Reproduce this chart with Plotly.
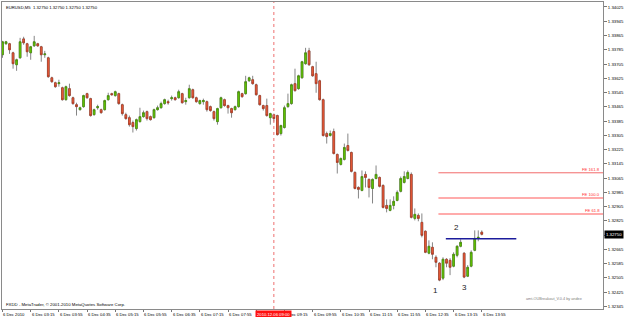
import plotly.graph_objects as go

# ---------------- data (EURUSD, M5, 6 Dec 2010 02:35 -> 13:55) ----------------
opens = [1.33757, 1.33819, 1.33819, 1.33768, 1.33701, 1.33740, 1.33846, 1.33819, 1.33768, 1.33807,
         1.33819, 1.33802, 1.33757, 1.33740, 1.33628, 1.33600, 1.33595, 1.33572, 1.33505, 1.33567,
         1.33516, 1.33477, 1.33449, 1.33466, 1.33539, 1.33511, 1.33421, 1.33460, 1.33449, 1.33449,
         1.33505, 1.33539, 1.33528, 1.33539, 1.33477, 1.33421, 1.33404, 1.33377, 1.33343, 1.33382,
         1.33410, 1.33438, 1.33410, 1.33404, 1.33449, 1.33460, 1.33483, 1.33494, 1.33511, 1.33516,
         1.33516, 1.33539, 1.33494, 1.33516, 1.33561, 1.33516, 1.33483, 1.33494, 1.33494, 1.33466,
         1.33438, 1.33382, 1.33460, 1.33505, 1.33472, 1.33455, 1.33449, 1.33466, 1.33539, 1.33539,
         1.33611, 1.33617, 1.33589, 1.33528, 1.33472, 1.33472, 1.33404, 1.33421, 1.33416, 1.33315,
         1.33349, 1.33466, 1.33483, 1.33595, 1.33567, 1.33628, 1.33707, 1.33779, 1.33690, 1.33651,
         1.33611, 1.33505, 1.33315, 1.33304, 1.33326, 1.33198, 1.33142, 1.33170, 1.33248, 1.33209,
         1.33097, 1.33013, 1.32996, 1.33086, 1.33058, 1.33007, 1.33063, 1.33069, 1.33024, 1.32912,
         1.32884, 1.32912, 1.32940, 1.32991, 1.33041, 1.33063, 1.33086, 1.32839, 1.32856, 1.32817,
         1.32767, 1.32644, 1.32677, 1.32621, 1.32588, 1.32504, 1.32610, 1.32604, 1.32571, 1.32632,
         1.32683, 1.32644, 1.32515, 1.32571, 1.32660, 1.32727, 1.32762]
highs = [1.33835, 1.33835, 1.33824, 1.33774, 1.33735, 1.33852, 1.33858, 1.33824, 1.33807, 1.33863,
         1.33824, 1.33807, 1.33779, 1.33746, 1.33634, 1.33606, 1.33617, 1.33578, 1.33584, 1.33595,
         1.33522, 1.33488, 1.33466, 1.33533, 1.33544, 1.33516, 1.33455, 1.33477, 1.33455, 1.33505,
         1.33544, 1.33544, 1.33556, 1.33544, 1.33483, 1.33432, 1.33416, 1.33388, 1.33399, 1.33460,
         1.33444, 1.33444, 1.33416, 1.33455, 1.33472, 1.33494, 1.33511, 1.33505, 1.33528, 1.33522,
         1.33561, 1.33544, 1.33516, 1.33589, 1.33567, 1.33522, 1.33505, 1.33511, 1.33500, 1.33472,
         1.33444, 1.33460, 1.33522, 1.33511, 1.33477, 1.33460, 1.33472, 1.33556, 1.33544, 1.33639,
         1.33634, 1.33639, 1.33595, 1.33533, 1.33477, 1.33511, 1.33432, 1.33427, 1.33421, 1.33365,
         1.33472, 1.33539, 1.33595, 1.33679, 1.33645, 1.33723, 1.33796, 1.33796, 1.33695, 1.33718,
         1.33617, 1.33511, 1.33326, 1.33332, 1.33343, 1.33203, 1.33181, 1.33259, 1.33315, 1.33214,
         1.33103, 1.33019, 1.33108, 1.33103, 1.33063, 1.33063, 1.33136, 1.33074, 1.33030, 1.32946,
         1.32946, 1.32963, 1.32996, 1.33074, 1.33103, 1.33108, 1.33097, 1.32895, 1.32867, 1.32867,
         1.32772, 1.32716, 1.32705, 1.32632, 1.32593, 1.32621, 1.32616, 1.32616, 1.32649, 1.32688,
         1.32722, 1.32649, 1.32577, 1.32660, 1.32772, 1.32772, 1.32772]
lows = [1.33740, 1.33813, 1.33762, 1.33679, 1.33667, 1.33735, 1.33813, 1.33746, 1.33729, 1.33802,
        1.33802, 1.33718, 1.33740, 1.33628, 1.33600, 1.33572, 1.33578, 1.33500, 1.33500, 1.33522,
        1.33477, 1.33416, 1.33444, 1.33460, 1.33511, 1.33410, 1.33416, 1.33449, 1.33427, 1.33444,
        1.33500, 1.33528, 1.33522, 1.33477, 1.33416, 1.33393, 1.33354, 1.33321, 1.33332, 1.33377,
        1.33404, 1.33388, 1.33388, 1.33399, 1.33444, 1.33455, 1.33477, 1.33477, 1.33500, 1.33500,
        1.33511, 1.33483, 1.33477, 1.33511, 1.33511, 1.33488, 1.33477, 1.33477, 1.33438, 1.33438,
        1.33388, 1.33365, 1.33455, 1.33466, 1.33427, 1.33404, 1.33444, 1.33460, 1.33516, 1.33533,
        1.33606, 1.33589, 1.33528, 1.33472, 1.33444, 1.33410, 1.33365, 1.33382, 1.33304, 1.33304,
        1.33343, 1.33460, 1.33477, 1.33550, 1.33561, 1.33623, 1.33701, 1.33695, 1.33634, 1.33544,
        1.33500, 1.33298, 1.33259, 1.33298, 1.33198, 1.33091, 1.33136, 1.33164, 1.33214, 1.33097,
        1.33002, 1.32951, 1.32991, 1.33013, 1.32957, 1.32923, 1.33058, 1.33013, 1.32895, 1.32873,
        1.32879, 1.32890, 1.32935, 1.32985, 1.33035, 1.33058, 1.32839, 1.32828, 1.32823, 1.32733,
        1.32644, 1.32638, 1.32610, 1.32565, 1.32487, 1.32493, 1.32565, 1.32521, 1.32565, 1.32621,
        1.32677, 1.32504, 1.32510, 1.32565, 1.32655, 1.32711, 1.32744]
closes = [1.33830, 1.33830, 1.33785, 1.33707, 1.33729, 1.33830, 1.33824, 1.33774, 1.33802, 1.33830,
          1.33807, 1.33757, 1.33762, 1.33634, 1.33606, 1.33578, 1.33600, 1.33505, 1.33578, 1.33528,
          1.33483, 1.33466, 1.33460, 1.33528, 1.33516, 1.33416, 1.33449, 1.33466, 1.33432, 1.33500,
          1.33528, 1.33533, 1.33550, 1.33483, 1.33427, 1.33399, 1.33365, 1.33354, 1.33393, 1.33410,
          1.33432, 1.33399, 1.33393, 1.33449, 1.33460, 1.33483, 1.33505, 1.33488, 1.33516, 1.33505,
          1.33550, 1.33488, 1.33500, 1.33567, 1.33516, 1.33494, 1.33500, 1.33500, 1.33449, 1.33444,
          1.33399, 1.33455, 1.33516, 1.33472, 1.33460, 1.33432, 1.33466, 1.33550, 1.33522, 1.33606,
          1.33628, 1.33595, 1.33533, 1.33477, 1.33455, 1.33416, 1.33427, 1.33399, 1.33309, 1.33360,
          1.33460, 1.33483, 1.33589, 1.33556, 1.33639, 1.33718, 1.33768, 1.33701, 1.33639, 1.33595,
          1.33505, 1.33304, 1.33298, 1.33315, 1.33203, 1.33153, 1.33175, 1.33237, 1.33220, 1.33103,
          1.33007, 1.33002, 1.33074, 1.33069, 1.33013, 1.33058, 1.33086, 1.33019, 1.32901, 1.32895,
          1.32912, 1.32935, 1.32985, 1.33063, 1.33074, 1.33097, 1.32845, 1.32862, 1.32839, 1.32744,
          1.32649, 1.32683, 1.32638, 1.32593, 1.32493, 1.32610, 1.32588, 1.32565, 1.32638, 1.32683,
          1.32705, 1.32510, 1.32565, 1.32649, 1.32727, 1.32733, 1.32750]

bar_index = list(range(len(closes)))

x_tick_bars = [0, 8, 16, 24, 32, 40, 48, 56, 64, 72, 80, 88, 96, 104, 112, 120, 128, 136]
x_tick_text = ["6 Dec 2010", "6 Dec 03:15", "6 Dec 03:55", "6 Dec 04:35", "6 Dec 05:15",
               "6 Dec 05:55", "6 Dec 06:35", "6 Dec 07:15", "6 Dec 07:55", "6 Dec 08:35",
               "6 Dec 09:15", "6 Dec 09:55", "6 Dec 10:35", "6 Dec 11:15", "6 Dec 11:55",
               "6 Dec 12:35", "6 Dec 13:15", "6 Dec 13:55"]

y_tick_vals = [1.34025, 1.33945, 1.33865, 1.33785, 1.33705, 1.33625, 1.33545, 1.33465,
               1.33385, 1.33305, 1.33225, 1.33145, 1.33065, 1.32985, 1.32905, 1.32825,
               1.32745, 1.32665, 1.32585, 1.32505, 1.32425, 1.32345]

fibo_levels = [1.33095, 1.32953, 1.32864]
fibo_labels = ["FE 161.8", "FE 100.0", "FE 61.8"]
fibo_colors = ["#f26a6a", "#ffabab", "#ffabab"]
fibo_widths = [1, 2, 2]
fibo_start_bar = 123.7

breakout_level = 1.32725
breakout_bars = [125.8, 145.8]

vline_bar = 77
vline_label = "2010.12.06 09:00"

point_labels = ["1", "2", "3"]
point_bars = [123, 128.8, 131]
point_prices = [1.32437, 1.32789, 1.32453]

current_price = 1.32750
header = "EURUSD,M5  1.32750 1.32750 1.32750 1.32750"
copyright_txt = "FXDD - MetaTrader, \u00a9 2001-2010 MetaQuotes Software Corp."
indicator_txt = "amt-OUBreakout_V.0.4 by andee"

FONT = "Liberation Sans, Arial, sans-serif"

body_hi = [max(o, c) for o, c in zip(opens, closes)]
body_lo = [min(o, c) for o, c in zip(opens, closes)]

fig = go.Figure()
# wicks (grey)
fig.add_trace(go.Candlestick(
    x=bar_index, open=opens, high=highs, low=lows, close=closes,
    increasing=dict(line=dict(color="#858585", width=1), fillcolor="#858585"),
    decreasing=dict(line=dict(color="#858585", width=1), fillcolor="#858585"),
    showlegend=False, hoverinfo="skip"))
# bodies
fig.add_trace(go.Candlestick(
    x=bar_index, open=opens, high=body_hi, low=body_lo, close=closes,
    increasing=dict(line=dict(color="#3f8a00", width=0.6), fillcolor="#66cc00"),
    decreasing=dict(line=dict(color="#a8301a", width=0.6), fillcolor="#ee5f3c"),
    showlegend=False, hoverinfo="skip"))

shapes = []
shapes.append(dict(type="line", xref="x", yref="paper", x0=vline_bar, x1=vline_bar, y0=0, y1=1,
                   line=dict(color="#ee7070", width=1, dash="dot")))
for lev, col, w in zip(fibo_levels, fibo_colors, fibo_widths):
    shapes.append(dict(type="line", xref="x", yref="y", x0=fibo_start_bar, x1=171, y0=lev, y1=lev,
                       line=dict(color=col, width=w)))
shapes.append(dict(type="line", xref="x", yref="y", x0=breakout_bars[0], x1=breakout_bars[1],
                   y0=breakout_level, y1=breakout_level, line=dict(color="#1c1c9c", width=1.3)))

ann = []
for b, t in zip(x_tick_bars, x_tick_text):
    if t == "6 Dec 08:35":
        continue  # fully hidden behind the red time box in the reference
    ann.append(dict(x=b, y=0, xref="x", yref="paper", text=t, showarrow=False,
                    xanchor="left", yanchor="top", xshift=-1, yshift=-1,
                    font=dict(size=4.2, color="#000", family=FONT)))
ann.append(dict(x=vline_bar, y=0, xref="x", yref="paper", text=vline_label, showarrow=False,
                xanchor="center", yanchor="top", yshift=-1, bgcolor="#ff1010", borderpad=1,
                font=dict(size=4.2, color="#ffffff", family=FONT)))
for lev, lab in zip(fibo_levels, fibo_labels):
    ann.append(dict(x=1, y=lev, xref="paper", yref="y", text=lab, showarrow=False,
                    xanchor="right", yanchor="bottom", xshift=-1, yshift=-1,
                    font=dict(size=4.2, color="#ff3030", family=FONT)))
for b, p, t in zip(point_bars, point_prices, point_labels):
    ann.append(dict(x=b, y=p, xref="x", yref="y", text=t, showarrow=False,
                    font=dict(size=8, color="#1a1a1a", family=FONT)))
ann.append(dict(x=1, y=current_price, xref="paper", yref="y", text="1.32750", showarrow=False,
                xanchor="left", xshift=1, bgcolor="#000000", borderpad=1,
                font=dict(size=4.3, color="#ffffff", family=FONT)))
ann.append(dict(x=0, y=1, xref="paper", yref="paper", text=header, showarrow=False,
                xanchor="left", yanchor="top", xshift=2, yshift=-1,
                font=dict(size=4.2, color="#000", family=FONT)))
ann.append(dict(x=0, y=0, xref="paper", yref="paper", text=copyright_txt, showarrow=False,
                xanchor="left", yanchor="bottom", xshift=2, yshift=0,
                font=dict(size=4.3, color="#000", family=FONT)))
ann.append(dict(x=1, y=0, xref="paper", yref="paper", text=indicator_txt, showarrow=False,
                xanchor="right", yanchor="bottom", xshift=-19, yshift=6,
                font=dict(size=3.8, color="#808080", family=FONT)))

# the current-price box covers the 1.32745 scale label, as on the reference
y_tick_text = ["" if abs(v - current_price) < 0.0001 else f"{v:.5f}" for v in y_tick_vals]

fig.update_layout(
    width=625, height=317,
    margin=dict(l=1, r=17, t=1, b=8),
    paper_bgcolor="#ffffff", plot_bgcolor="#ffffff",
    showlegend=False,
    shapes=shapes, annotations=ann,
    xaxis=dict(range=[-0.14, 170.4], rangeslider=dict(visible=False), showgrid=False, zeroline=False,
               tickmode="array", tickvals=x_tick_bars, showticklabels=False,
               ticks="outside", ticklen=2, tickcolor="#777",
               showline=True, linecolor="#8a8a8a", linewidth=1, mirror=True),
    yaxis=dict(range=[1.32331, 1.34053], side="right", showgrid=False, zeroline=False,
               tickmode="array", tickvals=y_tick_vals, ticktext=y_tick_text,
               ticks="outside", ticklen=3, tickcolor="#777",
               tickfont=dict(size=4.3, color="#000", family=FONT),
               showline=True, linecolor="#8a8a8a", linewidth=1, mirror=True),
)

fig.write_html("out.html")
